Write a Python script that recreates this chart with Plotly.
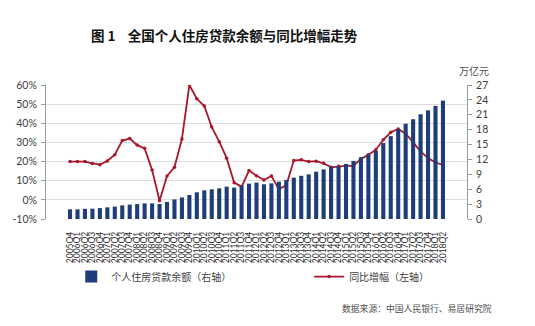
import plotly.graph_objects as go

# Quarters 2005Q4 .. 2018Q2
quarters = ["2005Q4"]
for yr in range(2006, 2018):
    quarters += [f"{yr}Q{q}" for q in range(1, 5)]
quarters += ["2018Q1", "2018Q2"]

# Outstanding individual housing loans (万亿元, right axis)
balance = [1.95, 1.95, 2.05, 2.08, 2.2, 2.35, 2.5, 2.75, 2.9, 3.0,
           3.15, 3.15, 3.02, 3.45, 3.95, 4.35, 4.84, 5.38, 5.78, 5.98,
           6.18, 6.52, 6.32, 6.79, 7.12, 7.33, 6.99, 7.19, 7.53, 7.86,
           8.33, 8.7, 9.0, 9.54, 10.0, 10.55, 10.7, 11.1, 11.7, 12.43,
           13.0, 13.7, 15.3, 16.7, 18.1, 19.2, 20.1, 21.1, 21.9, 22.8,
           23.85]

# Year-on-year growth (%, left axis)
growth = [20.0, 20.0, 20.0, 19.0, 18.4, 20.3, 23.6, 31.0, 32.0, 28.6,
          26.9, 15.6, -0.5, 12.5, 17.0, 31.8, 60.0, 52.8, 49.0, 38.0,
          30.4, 21.8, 9.0, 6.9, 15.3, 12.6, 10.4, 12.5, 5.5, 7.7,
          20.5, 20.9, 20.0, 20.2, 19.1, 17.0, 17.5, 17.8, 17.8, 21.4,
          23.5, 26.2, 31.4, 35.3, 37.0, 34.6, 30.0, 25.3, 21.8, 19.5,
          18.3]

left_ticks = list(range(-10, 61, 10))
left_labels = [f"{v}%" for v in left_ticks]
right_ticks = list(range(0, 28, 3))

BAR_COLOR = "#1f3d78"
LINE_COLOR = "#a8172b"
TICK_FONT = dict(family="Lato, 'Open Sans', sans-serif", size=10.5, color="#404040")
CJK = "'Noto Sans CJK SC', sans-serif"

fig = go.Figure()
fig.add_trace(go.Bar(
    x=quarters, y=balance, yaxis="y2", name="个人住房贷款余额（右轴）",
    marker=dict(color=BAR_COLOR, line=dict(width=0)), legend="legend",
))
fig.add_trace(go.Scatter(
    x=quarters, y=growth, yaxis="y", name="同比增幅（左轴）",
    mode="lines+markers",
    line=dict(color=LINE_COLOR, width=1.8),
    marker=dict(color=LINE_COLOR, size=3.5),
    legend="legend2",
))

fig.update_layout(
    width=535, height=326,
    margin=dict(l=42, r=68, t=85, b=107),
    paper_bgcolor="white", plot_bgcolor="white",
    bargap=0.45,
    showlegend=True,
    xaxis=dict(
        type="category", tickmode="array", tickvals=quarters, ticktext=quarters,
        tickangle=-90, ticklabelstandoff=10,
        tickfont=dict(family="Lato, sans-serif", size=8.5, color="#303030"),
        showgrid=False, showline=False, ticks="", zeroline=False,
    ),
    yaxis=dict(
        range=[-10, 60], tickmode="array", tickvals=left_ticks, ticktext=left_labels,
        tickfont=TICK_FONT, showgrid=True, gridcolor="#dedede", gridwidth=1,
        zeroline=False, showline=True, linecolor="#9a9a9a", linewidth=1,
        ticks="outside", ticklen=4, tickcolor="#9a9a9a", ticklabelstandoff=2,
    ),
    yaxis2=dict(
        range=[0, 27], tickmode="array", tickvals=right_ticks,
        ticktext=[str(v) for v in right_ticks], overlaying="y", side="right",
        tickfont=TICK_FONT, showgrid=False, zeroline=False,
        showline=True, linecolor="#9a9a9a", linewidth=1,
        ticks="outside", ticklen=4, tickcolor="#9a9a9a", ticklabelstandoff=2,
    ),
    legend=dict(
        x=0.06, y=-0.43, xanchor="left", yanchor="middle",
        font=dict(family=CJK, size=10, color="#404040"),
        bgcolor="rgba(0,0,0,0)",
    ),
    legend2=dict(
        x=0.625, y=-0.43, xanchor="left", yanchor="middle",
        font=dict(family=CJK, size=10, color="#404040"),
        bgcolor="rgba(0,0,0,0)",
    ),
    annotations=[
        dict(text="<b>图 1    全国个人住房贷款余额与同比增幅走势</b>",
             xref="paper", yref="paper", x=0.101, y=1.0, yshift=50,
             xanchor="left", yanchor="middle", showarrow=False,
             font=dict(family=CJK, size=13.5, color="#111111")),
        dict(text="万亿元", xref="paper", yref="paper", x=1.0, y=1.0, xshift=7, yshift=15,
             xanchor="center", yanchor="middle", showarrow=False,
             font=dict(family=CJK, size=10, color="#505050")),
        dict(text="数据来源：中国人民银行、易居研究院", xref="paper", yref="paper",
             x=1.0, y=0.0, xshift=27, yshift=-89,
             xanchor="right", yanchor="middle", showarrow=False,
             font=dict(family=CJK, size=8.8, color="#505050")),
    ],
)

fig.write_html("out.html")
